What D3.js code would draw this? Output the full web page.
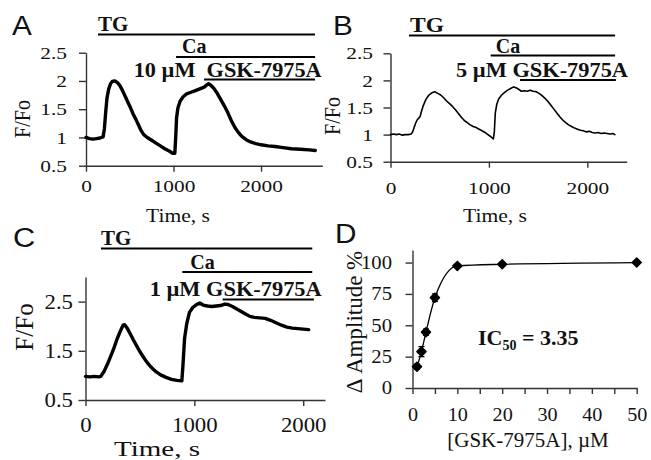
<!DOCTYPE html>
<html><head><meta charset="utf-8">
<script src="https://cdn.jsdelivr.net/npm/d3@7"></script>
<style>
body{margin:0;background:#fff}svg{display:block}
.serif{font-family:"Liberation Serif","Times New Roman",Times,serif}
.sans{font-family:"Liberation Sans",Arial,Helvetica,sans-serif}
</style>
</head><body><svg id="c" width="651" height="460"></svg>
<script>
// ---------------- DATA ----------------
const timeA  = [0,40,80,120,160,195,210,225,240,260,280,300,330,360,390,420,450,480,510,540,570,600,630,660,700,750,800,850,900,950,990,1015,1025,1035,1050,1075,1110,1150,1200,1250,1300,1350,1380,1400,1430,1460,1500,1540,1580,1620,1660,1700,1740,1780,1830,1880,1940,2000,2080,2160,2250,2350,2450,2550,2620];
const ratioA = [1.00,0.98,0.97,0.98,0.99,1.01,1.15,1.45,1.70,1.86,1.95,1.99,2.00,1.97,1.91,1.82,1.72,1.62,1.52,1.41,1.32,1.22,1.12,1.05,1.00,0.95,0.90,0.85,0.80,0.76,0.72,0.72,1.00,1.35,1.52,1.64,1.72,1.77,1.80,1.83,1.86,1.89,1.93,1.95,1.92,1.87,1.78,1.67,1.56,1.44,1.30,1.18,1.09,1.02,0.96,0.92,0.89,0.87,0.85,0.84,0.82,0.80,0.79,0.78,0.77];

const timeB  = [0,30,60,90,120,150,180,210,225,240,255,270,285,300,315,330,360,390,420,450,480,510,540,570,600,630,660,690,720,750,780,810,840,870,900,930,960,990,1020,1045,1055,1065,1080,1100,1130,1160,1190,1220,1250,1270,1300,1330,1360,1390,1420,1450,1480,1510,1540,1570,1600,1630,1660,1690,1720,1750,1780,1810,1840,1870,1900,1930,1960,1990,2020,2050,2080,2110,2140,2170,2200,2230,2260,2280];
const ratioB = [1.00,1.01,1.00,1.01,0.99,1.00,1.00,1.01,1.05,1.13,1.21,1.27,1.30,1.33,1.43,1.52,1.65,1.73,1.77,1.79,1.76,1.73,1.68,1.62,1.57,1.52,1.46,1.39,1.32,1.26,1.22,1.18,1.15,1.13,1.10,1.07,1.04,1.00,0.96,0.92,1.05,1.40,1.56,1.66,1.73,1.78,1.82,1.85,1.88,1.87,1.84,1.80,1.81,1.80,1.82,1.80,1.79,1.76,1.72,1.67,1.61,1.54,1.47,1.40,1.33,1.27,1.22,1.18,1.15,1.12,1.10,1.08,1.07,1.05,1.06,1.04,1.03,1.04,1.02,1.03,1.02,1.01,1.02,1.00];

const timeC  = [0,40,80,120,140,170,200,230,260,290,320,345,360,380,410,440,470,500,530,560,590,620,650,690,740,790,840,885,895,910,930,955,985,1020,1050,1080,1120,1160,1200,1240,1280,1310,1350,1390,1430,1470,1510,1550,1600,1650,1700,1750,1800,1850,1900,1950,2000,2050];
const ratioC = [0.98,0.97,0.98,0.97,0.98,1.08,1.22,1.38,1.55,1.74,1.90,2.02,2.03,1.97,1.85,1.72,1.60,1.48,1.38,1.28,1.20,1.13,1.07,1.01,0.96,0.92,0.90,0.89,1.20,1.75,2.05,2.28,2.38,2.44,2.47,2.43,2.41,2.40,2.41,2.42,2.45,2.44,2.40,2.35,2.30,2.25,2.20,2.18,2.17,2.16,2.12,2.07,2.02,1.98,1.96,1.95,1.94,1.93];

const concD = [1,2,3,5,10,20,50];
const ampD  = [17,29,44.5,72,97.3,98.6,100];
const errD  = [2,4,2.5,3,1.2,1,1];

// treatment periods (s): [start, end]
const tgA = [137,2617], caA = [1029,2617], gskA = [1349,2617];
const tgB = [188,2282], caB = [1018,2282], gskB = [1316,2290];
const tgC = [142,2083], caC = [889,2083],  gskC = [1260,2098];
const doseLabels = ["10 \u00b5M\u00a0 GSK-7975A","5 \u00b5M GSK-7975A","1 \u00b5M GSK-7975A"];
const panelLetters = ["A","B","C","D"];

const yTicksAB = [0.5,1,1.5,2,2.5];
const yTicksC  = [0.5,1.5,2.5];
const xTicksT  = [0,1000,2000];
const yTicksD  = [0,25,50,75,100];
const xTicksD  = [0,5,10,15,20,25,30,35,40,45,50];
const xLabelsD = [0,10,20,30,40,50];

// ---------------- DRAW ----------------
const svg = d3.select("#c");

function txt(s, x, y, o) {
  o = o || {};
  const t = svg.append("text")
    .attr("class", o.sans ? "sans" : "serif")
    .attr("transform", `translate(${x},${y}) scale(${o.sx||1},1)` + (o.rot ? ` rotate(${o.rot})` : ""))
    .attr("text-anchor", o.anchor || "start")
    .style("font-size", (o.fs || 18) + "px")
    .style("font-weight", o.fw || "normal")
    .attr("fill", "#111")
    .text(s);
  if (o.len) t.attr("textLength", o.len).attr("lengthAdjust", "spacingAndGlyphs");
  return t;
}

function axes(x, y, o) {
  const g = svg.append("g");
  const gx = g.append("g").attr("transform", `translate(0,${y.range()[0]})`)
    .call(d3.axisBottom(x).tickValues(o.xt).tickFormat(o.xf || (d => d))
      .tickSize(6).tickSizeOuter(0).tickPadding(o.xpad));
  const gy = g.append("g").attr("transform", `translate(${x.range()[0]},0)`)
    .call(d3.axisLeft(y).tickValues(o.yt).tickFormat(d => d)
      .tickSize(7).tickSizeOuter(0).tickPadding(o.ypad));
  [gx, gy].forEach(a => {
    a.attr("font-family", null).attr("font-size", null);
    a.select(".domain").attr("stroke", "#333").attr("stroke-width", 1.4);
    a.selectAll(".tick line").attr("stroke", "#333").attr("stroke-width", 1.4);
    a.selectAll("text").attr("class", "serif").attr("fill", "#111");
  });
  gx.selectAll("text").style("font-size", o.xfs + "px").attr("transform", `scale(${o.sx},1)`);
  gy.selectAll("text").style("font-size", o.yfs + "px").attr("x", -(7 + o.ypad) / o.sx)
    .attr("transform", `scale(${o.sx},1)`);
}

function trace(x, y, t, v, w) {
  svg.append("path").datum(d3.zip(t, v))
    .attr("d", d3.line().x(d => x(d[0])).y(d => y(d[1])))
    .attr("fill", "none").attr("stroke", "#000").attr("stroke-width", w)
    .attr("stroke-linejoin", "round").attr("stroke-linecap", "round");
}

function bar(x, r, yp) {
  svg.append("line").attr("x1", x(r[0])).attr("x2", x(r[1]))
    .attr("y1", yp).attr("y2", yp).attr("stroke", "#000").attr("stroke-width", 2);
}

// Panel A
const xA = d3.scaleLinear([0, 2700], [86, 322.3]);
const yA = d3.scaleLinear([0.5, 2.5], [165.7, 52.7]);
axes(xA, yA, {xt: xTicksT, yt: yTicksAB, xpad: 8, ypad: 12, xfs: 17.5, yfs: 17.5, sx: 1.22});
trace(xA, yA, timeA, ratioA, 3.4);
bar(xA, tgA, 34.5); bar(xA, caA, 57); bar(xA, gskA, 79.5);
txt("TG", xA(tgA[0]), 31, {fw: "bold", fs: 21});
txt("Ca", xA(caA[0]) + 6, 53, {fw: "bold", fs: 20});
txt(doseLabels[0], 321.7, 77, {fw: "bold", fs: 20, anchor: "end", len: 188});
txt("F/Fo", 30, 119, {fs: 20, sx: 1.2, rot: -90, anchor: "middle"});
txt("Time, s", 178, 222, {fs: 18, sx: 1.2, anchor: "middle"});
txt(panelLetters[0], 12, 35, {sans: true, fs: 27, sx: 1.1});

// Panel B
const xB = d3.scaleLinear([0, 2400], [390.5, 626.7]);
const yB = d3.scaleLinear([0.5, 2.5], [161.7, 53.3]);
axes(xB, yB, {xt: xTicksT, yt: yTicksAB, xpad: 14, ypad: 10.5, xfs: 17.5, yfs: 17.5, sx: 1.22});
trace(xB, yB, timeB, ratioB, 1.6);
bar(xB, tgB, 35.5); bar(xB, caB, 55.5); bar(xB, gskB, 80);
txt("TG", xB(tgB[0]) + 1, 32, {fw: "bold", fs: 21, sx: 1.12});
txt("Ca", xB(caB[0]) + 5, 53, {fw: "bold", fs: 20});
txt(doseLabels[1], 628, 77, {fw: "bold", fs: 20, anchor: "end", len: 172});
txt("F/Fo", 340, 116, {fs: 20, sx: 1.2, rot: -90, anchor: "middle"});
txt("Time, s", 495, 222, {fs: 18, sx: 1.2, anchor: "middle"});
txt(panelLetters[1], 333, 35, {sans: true, fs: 27, sx: 1.1});

// Panel C
const xC = d3.scaleLinear([0, 2200], [85.5, 325]);
const yC = d3.scaleLinear([0.5, 3], [400, 277]);
axes(xC, yC, {xt: xTicksT, yt: yTicksC, xpad: 12, ypad: 5.5, xfs: 20, yfs: 20, sx: 1.14});
trace(xC, yC, timeC, ratioC, 3.4);
bar(xC, tgC, 248.5); bar(xC, caC, 272); bar(xC, gskC, 299.5);
txt("TG", xC(tgC[0]), 245, {fw: "bold", fs: 21});
txt("Ca", xC(caC[0]) + 8, 269, {fw: "bold", fs: 20});
txt(doseLabels[2], 321.7, 295.5, {fw: "bold", fs: 20, anchor: "end", len: 172});
txt("F/Fo", 33, 327, {fs: 25, rot: -90, anchor: "middle"});
txt("Time, s", 157, 456, {fs: 22, sx: 1.32, anchor: "middle"});
txt(panelLetters[2], 13, 247, {sans: true, fs: 28, sx: 1.1});

// Panel D
const xD = d3.scaleLinear([0, 50], [412.5, 636.7]);
const yD = d3.scaleLinear([0, 110], [388, 250]);
axes(xD, yD, {xt: xTicksD, yt: yTicksD, xpad: 14, ypad: 13.5, xfs: 18, yfs: 18.5, sx: 1.12,
  xf: d => xLabelsD.includes(d) ? d : ""});
const ptsD = d3.zip(concD, ampD, errD);
svg.append("path").datum(ptsD)
  .attr("d", d3.line().x(d => xD(d[0])).y(d => yD(d[1])).curve(d3.curveMonotoneX))
  .attr("fill", "none").attr("stroke", "#000").attr("stroke-width", 1.3);
const eg = svg.append("g").attr("stroke", "#000").attr("stroke-width", 1.3);
ptsD.forEach(d => {
  const x = xD(d[0]), y0 = yD(d[1] - d[2]), y1 = yD(d[1] + d[2]);
  eg.append("line").attr("x1", x).attr("x2", x).attr("y1", y0).attr("y2", y1);
  eg.append("line").attr("x1", x - 3).attr("x2", x + 3).attr("y1", y0).attr("y2", y0);
  eg.append("line").attr("x1", x - 3).attr("x2", x + 3).attr("y1", y1).attr("y2", y1);
});
svg.append("g").selectAll("path").data(ptsD).join("path")
  .attr("transform", d => `translate(${xD(d[0])},${yD(d[1])}) rotate(45)`)
  .attr("d", d3.symbol(d3.symbolSquare, 40))
  .attr("fill", "#000").attr("stroke", "#000").attr("stroke-width", 1.6).attr("stroke-linejoin", "round");
const ic = txt("IC", 478, 345, {fw: "bold", fs: 22});
ic.append("tspan").style("font-size", "14px").attr("dy", 5).text("50");
ic.append("tspan").attr("dy", -5).text(" = 3.35");
txt("\u0394 Amplitude %", 362, 322, {fs: 23, rot: -90, anchor: "middle"});
txt("[GSK-7975A], \u00b5M", 528, 447, {fs: 21, anchor: "middle"});
txt(panelLetters[3], 335, 243, {sans: true, fs: 27, sx: 1.1});
</script></body></html>
